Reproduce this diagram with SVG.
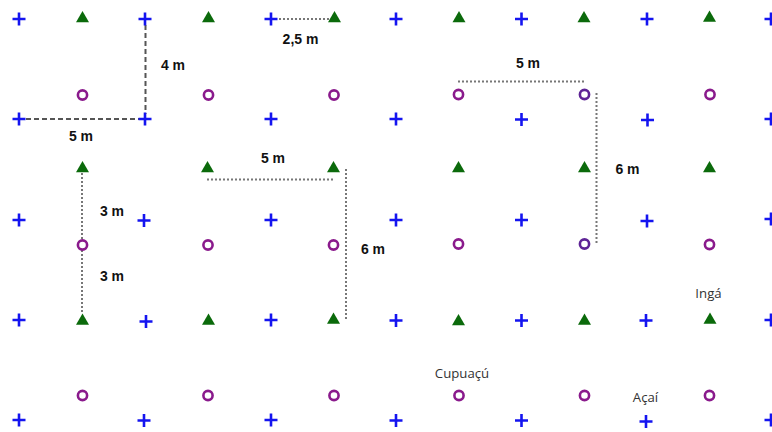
<svg xmlns="http://www.w3.org/2000/svg" xmlns:xlink="http://www.w3.org/1999/xlink" width="772" height="432" viewBox="0 0 772 432">
<style>
.plus{stroke:#1414f0;stroke-width:2.6;fill:none}
.tri{fill:#0b6a0b}
.circ{fill:none;stroke:#8a1a8c;stroke-width:2.6}
.circ2{fill:none;stroke:#5e2496;stroke-width:2.6}
.dash{stroke:#555;stroke-width:2;stroke-dasharray:5 3;fill:none}
.dot{stroke:#777;stroke-width:2;stroke-dasharray:2 2;fill:none}
.dim{font-family:"Liberation Sans",Arial,sans-serif;font-weight:bold;font-size:14px;fill:#111;text-anchor:middle}
.lbl{font-family:"Open Sans","Liberation Sans",sans-serif;font-size:13.2px;fill:#333;text-anchor:middle}
</style>
<defs>
<path id="p" class="plus" d="M-6.5,0H6.5M0,-6.5V6.5"/>
<path id="t" class="tri" d="M0,-6L6.5,5.2H-6.5Z"/>
<circle id="o" class="circ" r="4.6"/>
<circle id="o2" class="circ2" r="4.6"/>
</defs>
<rect width="772" height="432" fill="#fff"/>
<g id="connectors">
<path class="dash" d="M145.5,25V114"/>
<path class="dash" d="M26,119H139"/>
<path class="dot" d="M279,19H330"/>
<path class="dot" d="M207,179.5H334"/>
<path class="dot" d="M346,169V320"/>
<path class="dot" d="M82,173V240"/>
<path class="dot" d="M82,250V314"/>
<path class="dot" d="M458,81.5H585"/>
<path class="dot" d="M596.5,93V243"/>
</g>
<g id="dimension-labels">
<text class="dim" x="173" y="70">4 m</text>
<text class="dim" x="81" y="141">5 m</text>
<text class="dim" x="300.5" y="44">2,5 m</text>
<text class="dim" x="273" y="163">5 m</text>
<text class="dim" x="112" y="215.5">3 m</text>
<text class="dim" x="112" y="281">3 m</text>
<text class="dim" x="373" y="254">6 m</text>
<text class="dim" x="528" y="68">5 m</text>
<text class="dim" x="627.5" y="174">6 m</text>
</g>
<g id="crosses">
<g id="x1-1"><use xlink:href="#p" x="19" y="19"/></g>
<g id="x1-2"><use xlink:href="#p" x="145" y="19"/></g>
<g id="x1-3"><use xlink:href="#p" x="271" y="19"/></g>
<g id="x1-4"><use xlink:href="#p" x="396" y="19"/></g>
<g id="x1-5"><use xlink:href="#p" x="521.5" y="19"/></g>
<g id="x1-6"><use xlink:href="#p" x="647" y="19"/></g>
<g id="x1-7"><use xlink:href="#p" x="771" y="19"/></g>
<g id="x2-1"><use xlink:href="#p" x="19" y="119"/></g>
<g id="x2-2"><use xlink:href="#p" x="145" y="119"/></g>
<g id="x2-3"><use xlink:href="#p" x="271" y="119"/></g>
<g id="x2-4"><use xlink:href="#p" x="396" y="119"/></g>
<g id="x2-5"><use xlink:href="#p" x="521.5" y="119.5"/></g>
<g id="x2-6"><use xlink:href="#p" x="647.5" y="120"/></g>
<g id="x2-7"><use xlink:href="#p" x="771" y="119"/></g>
<g id="x3-1"><use xlink:href="#p" x="19" y="220"/></g>
<g id="x3-2"><use xlink:href="#p" x="144" y="220.5"/></g>
<g id="x3-3"><use xlink:href="#p" x="271" y="220"/></g>
<g id="x3-4"><use xlink:href="#p" x="396" y="220"/></g>
<g id="x3-5"><use xlink:href="#p" x="521.5" y="220"/></g>
<g id="x3-6"><use xlink:href="#p" x="647" y="221"/></g>
<g id="x3-7"><use xlink:href="#p" x="771" y="219"/></g>
<g id="x4-1"><use xlink:href="#p" x="19" y="320"/></g>
<g id="x4-2"><use xlink:href="#p" x="146" y="321.5"/></g>
<g id="x4-3"><use xlink:href="#p" x="271" y="320"/></g>
<g id="x4-4"><use xlink:href="#p" x="396" y="320.5"/></g>
<g id="x4-5"><use xlink:href="#p" x="521.5" y="320.5"/></g>
<g id="x4-6"><use xlink:href="#p" x="646" y="320.5"/></g>
<g id="x4-7"><use xlink:href="#p" x="771" y="320"/></g>
<g id="x5-1"><use xlink:href="#p" x="19" y="420"/></g>
<g id="x5-2"><use xlink:href="#p" x="144" y="420.5"/></g>
<g id="x5-3"><use xlink:href="#p" x="271" y="420"/></g>
<g id="x5-4"><use xlink:href="#p" x="396" y="420.5"/></g>
<g id="x5-5"><use xlink:href="#p" x="521.5" y="420.5"/></g>
<g id="x5-6"><use xlink:href="#p" x="646" y="421.5"/></g>
<g id="x5-7"><use xlink:href="#p" x="771" y="420"/></g>
</g>
<g id="triangles">
<g id="t1-1"><use xlink:href="#t" x="82.5" y="17"/></g>
<g id="t1-2"><use xlink:href="#t" x="208.5" y="17"/></g>
<g id="t1-3"><use xlink:href="#t" x="334.5" y="17"/></g>
<g id="t1-4"><use xlink:href="#t" x="459" y="17"/></g>
<g id="t1-5"><use xlink:href="#t" x="584" y="17"/></g>
<g id="t1-6"><use xlink:href="#t" x="709.5" y="16.5"/></g>
<g id="t2-1"><use xlink:href="#t" x="82.5" y="167"/></g>
<g id="t2-2"><use xlink:href="#t" x="207.5" y="167"/></g>
<g id="t2-3"><use xlink:href="#t" x="333.5" y="167"/></g>
<g id="t2-4"><use xlink:href="#t" x="458.5" y="167"/></g>
<g id="t2-5"><use xlink:href="#t" x="584.5" y="167"/></g>
<g id="t2-6"><use xlink:href="#t" x="709.5" y="167"/></g>
<g id="t3-1"><use xlink:href="#t" x="82.5" y="319.5"/></g>
<g id="t3-2"><use xlink:href="#t" x="208.5" y="319.5"/></g>
<g id="t3-3"><use xlink:href="#t" x="333.5" y="318.5"/></g>
<g id="t3-4"><use xlink:href="#t" x="458.5" y="320"/></g>
<g id="t3-5"><use xlink:href="#t" x="584.5" y="319.5"/></g>
<g id="t3-6"><use xlink:href="#t" x="710" y="318.5"/></g>
</g>
<g id="circles">
<g id="o1-1"><use xlink:href="#o" x="82.5" y="95"/></g>
<g id="o1-2"><use xlink:href="#o" x="208.5" y="95"/></g>
<g id="o1-3"><use xlink:href="#o" x="334" y="95"/></g>
<g id="o1-4"><use xlink:href="#o" x="458.5" y="94.5"/></g>
<g id="o1-5"><use xlink:href="#o2" x="584.5" y="94.5"/></g>
<g id="o1-6"><use xlink:href="#o" x="710" y="94.5"/></g>
<g id="o2-1"><use xlink:href="#o" x="82.5" y="245"/></g>
<g id="o2-2"><use xlink:href="#o" x="208" y="245"/></g>
<g id="o2-3"><use xlink:href="#o" x="333.5" y="245"/></g>
<g id="o2-4"><use xlink:href="#o" x="458.5" y="244"/></g>
<g id="o2-5"><use xlink:href="#o2" x="584.5" y="244"/></g>
<g id="o2-6"><use xlink:href="#o" x="709.5" y="244.5"/></g>
<g id="o3-1"><use xlink:href="#o" x="82.5" y="395.5"/></g>
<g id="o3-2"><use xlink:href="#o" x="208" y="395.5"/></g>
<g id="o3-3"><use xlink:href="#o" x="334" y="395.5"/></g>
<g id="o3-4"><use xlink:href="#o" x="459" y="395.5"/></g>
<g id="o3-5"><use xlink:href="#o" x="584.5" y="395.5"/></g>
<g id="o3-6"><use xlink:href="#o" x="709.5" y="395.5"/></g>
</g>
<g id="species-labels">
<text class="lbl" x="462" y="378">Cupuaçú</text>
<text class="lbl" x="645.5" y="401.5">Açaí</text>
<text class="lbl" x="708.5" y="297.5">Ingá</text>
</g>
</svg>
